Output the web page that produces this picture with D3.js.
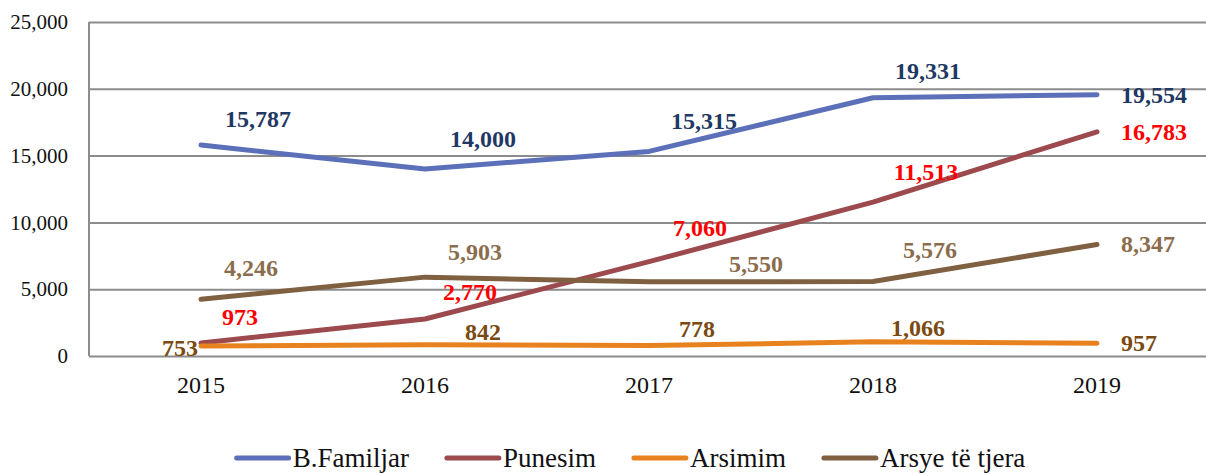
<!DOCTYPE html>
<meta charset="utf-8">
<style>
body { margin: 0; background: #fff; }
svg text { font-family: "Liberation Serif", "Times New Roman", serif; }
.grid line { stroke: #8c8c8c; stroke-width: 2; }
.grid .domain { display: none; }
.tick text { fill: #111; }
.series-line { fill: none; stroke-width: 5; stroke-linejoin: round; stroke-linecap: round; }
.val { font-weight: bold; font-size: 24px; text-anchor: middle; dominant-baseline: central; }
.legend text { font-size: 27px; fill: #111; dominant-baseline: central; }
</style>
<svg width="1206" height="474"></svg>
<script src="https://d3js.org/d3.v7.min.js"></script>
<script>

var years = ["2015", "2016", "2017", "2018", "2019"];
var yTicks = [0, 5000, 10000, 15000, 20000, 25000];

var familjar = [15787, 14000, 15315, 19331, 19554];
var punesim  = [973, 2770, 7060, 11513, 16783];
var arsimim  = [753, 842, 778, 1066, 957];
var tjera    = [4246, 5903, 5550, 5576, 8347];

var seriesNames = ["B.Familjar", "Punesim", "Arsimim", "Arsye të tjera"];
var lineColors  = ["#5b70b8", "#9c4a4e", "#e8821e", "#7f6040"];
var labelColors = ["#1f3864", "#ff0000", "#7b4a12", "#8b6d4e"];

// where each value label sits relative to its point (px)
var labelNudge = [
  [[57, -26], [58, -30], [55, -30], [55, -27], [57, 0]],
  [[39, -26], [45, -27], [51, -34], [53, -30], [57, 0]],
  [[-21, 2], [58, -13], [48, -17], [45, -14], [42, 0]],
  [[50, -31], [50, -25], [107, -18], [57, -32], [51, 0]]
];

var svg = d3.select("svg"),
    plotLeft = 89, plotRight = 1209, plotTop = 22, plotBottom = 356;

var x = d3.scaleBand().domain(years).range([plotLeft, plotRight]);
var y = d3.scaleLinear().domain([0, 25000]).range([plotBottom, plotTop]);
var fmt = d3.format(",");

var series = [familjar, punesim, arsimim, tjera].map(function(vals, i) {
  return { name: seriesNames[i], values: vals, line: lineColors[i], label: labelColors[i], nudge: labelNudge[i] };
});

// horizontal grid + y tick labels
var yAxis = svg.append("g")
    .attr("class", "grid")
    .attr("transform", "translate(" + plotLeft + ",0)")
    .call(d3.axisLeft(y).tickValues(yTicks).tickFormat(fmt)
      .tickSize(-(1206 - plotLeft)).tickPadding(21));
yAxis.selectAll(".tick text").attr("font-size", 21);

// y axis vertical line
svg.append("line")
    .attr("x1", plotLeft).attr("x2", plotLeft)
    .attr("y1", plotTop).attr("y2", plotBottom)
    .attr("stroke", "#8c8c8c").attr("stroke-width", 2);

// x labels
var xAxis = svg.append("g")
    .attr("transform", "translate(0," + plotBottom + ")")
    .call(d3.axisBottom(x).tickSize(0).tickPadding(20));
xAxis.select(".domain").remove();
xAxis.selectAll(".tick text").attr("font-size", 24);

var line = d3.line()
    .x(function(d, i) { return x(years[i]) + x.bandwidth() / 2; })
    .y(function(d) { return y(d); });

var g = svg.selectAll(".series")
  .data(series)
  .enter().append("g")
    .attr("class", "series");

g.append("path")
    .attr("class", "series-line")
    .attr("stroke", function(d) { return d.line; })
    .attr("d", function(d) { return line(d.values); });

g.selectAll(".val")
  .data(function(d) {
    return d.values.map(function(v, i) { return { v: v, i: i, s: d }; });
  })
  .enter().append("text")
    .attr("class", "val")
    .attr("fill", function(d) { return d.s.label; })
    .attr("x", function(d) { return x(years[d.i]) + x.bandwidth() / 2 + d.s.nudge[d.i][0]; })
    .attr("y", function(d) { return y(d.v) + d.s.nudge[d.i][1]; })
    .text(function(d) { return fmt(d.v); });

// legend
var legend = svg.append("g").attr("class", "legend");
var lx = 0;
series.forEach(function(s, i) {
  var item = legend.append("g").attr("transform", "translate(" + lx + ",0)");
  item.append("line")
      .attr("x1", 0).attr("x2", 52)
      .attr("stroke", s.line).attr("stroke-width", 5).attr("stroke-linecap", "round");
  var t = item.append("text")
      .attr("x", 56)
      .style("font-family", "'Liberation Serif', serif")
      .text(s.name);
  lx += 56 + t.node().getComputedTextLength() + 38;
});
var legendW = lx - 38;
legend.attr("transform", "translate(" + (631 - legendW / 2) + ",458)");

</script>
